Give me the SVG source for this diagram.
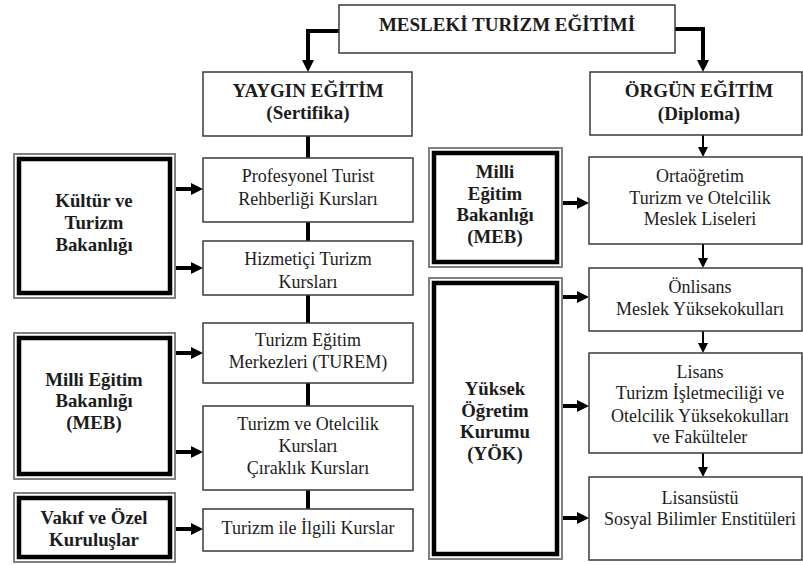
<svg xmlns="http://www.w3.org/2000/svg" width="803" height="565" viewBox="0 0 803 565">
<defs>
<style>
.box{fill:#fff;stroke:#3a3a3a;stroke-width:1.5}
.outer{fill:#fff;stroke:#808080;stroke-width:2}
.inner{fill:none;stroke:#000;stroke-width:4.5}
text{fill:#1c1c1c;text-anchor:middle}
.h{font-weight:bold;font-size:19px}
.b{font-weight:bold;font-size:18.8px}
.r{font-size:18px}
.thick{fill:none;stroke:#000;stroke-width:4}
.thin{fill:none;stroke:#000;stroke-width:2}
</style>
<marker id="ah" markerUnits="userSpaceOnUse" markerWidth="12" markerHeight="12" refX="1" refY="6" orient="auto">
<path d="M0,0 L12,6 L0,12 z" fill="#000"/>
</marker>
<marker id="ahs" markerUnits="userSpaceOnUse" markerWidth="10" markerHeight="10" refX="1" refY="5" orient="auto">
<path d="M0,0 L10,5 L0,10 z" fill="#000"/>
</marker>
</defs>
<rect width="803" height="565" fill="#fff"/>

<g id="connectors">
<path class="thick" d="M339,31 H308 V61" marker-end="url(#ah)"/>
<path class="thick" d="M675,29 H703 V61" marker-end="url(#ah)"/>
<path class="thick" d="M308,136 V158 M308,222 V241 M308,295 V323 M308,383 V406 M308,490 V509"/>
<path class="thin" d="M703,135 V148" marker-end="url(#ahs)"/>
<path class="thin" d="M703,244 V259" marker-end="url(#ahs)"/>
<path class="thin" d="M703,331 V344" marker-end="url(#ahs)"/>
<path class="thin" d="M703,453 V468" marker-end="url(#ahs)"/>
<path class="thick" d="M176,189 H192" marker-end="url(#ah)"/>
<path class="thick" d="M176,268 H192" marker-end="url(#ah)"/>
<path class="thick" d="M176,353 H192" marker-end="url(#ah)"/>
<path class="thick" d="M176,452 H192" marker-end="url(#ah)"/>
<path class="thick" d="M176,529 H192" marker-end="url(#ah)"/>
<path class="thick" d="M563,203 H578" marker-end="url(#ah)"/>
<path class="thick" d="M563,297 H578" marker-end="url(#ah)"/>
<path class="thick" d="M563,406 H578" marker-end="url(#ah)"/>
<path class="thick" d="M563,518 H578" marker-end="url(#ah)"/>
</g>

<g font-family="'Liberation Serif', 'DejaVu Serif', serif">
<g id="mesleki">
<rect class="box" x="339" y="5" width="336" height="48"/>
<text class="h" x="507" y="31">MESLEKİ TURİZM EĞİTİMİ</text>
</g>

<g id="yaygin">
<rect class="box" x="203" y="72" width="209" height="64"/>
<text class="h" x="308" y="97">YAYGIN EĞİTİM</text>
<text class="h" x="308" y="119">(Sertifika)</text>
</g>

<g id="orgun">
<rect class="box" x="590" y="72" width="212" height="63"/>
<text class="h" x="699" y="97">ÖRGÜN EĞİTİM</text>
<text class="h" x="699" y="120">(Diploma)</text>
</g>

<g id="kultur">
<rect class="outer" x="14" y="154" width="161" height="144"/>
<rect class="inner" x="19" y="159" width="151" height="134"/>
<text class="b" x="94" y="207">Kültür ve</text>
<text class="b" x="94" y="229">Turizm</text>
<text class="b" x="94" y="251">Bakanlığı</text>
</g>

<g id="meb-left">
<rect class="outer" x="14" y="333" width="161" height="146"/>
<rect class="inner" x="19" y="338" width="151" height="136"/>
<text class="b" x="94" y="386">Milli Eğitim</text>
<text class="b" x="94" y="407">Bakanlığı</text>
<text class="b" x="94" y="429">(MEB)</text>
</g>

<g id="vakif">
<rect class="outer" x="14" y="493" width="161" height="69"/>
<rect class="inner" x="19" y="498" width="151" height="59"/>
<text class="b" x="94" y="524">Vakıf ve Özel</text>
<text class="b" x="94" y="546">Kuruluşlar</text>
</g>

<g id="profesyonel">
<rect class="box" x="203" y="158" width="210" height="64"/>
<text class="r" x="308" y="182">Profesyonel Turist</text>
<text class="r" x="308" y="205">Rehberliği Kursları</text>
</g>

<g id="hizmetici">
<rect class="box" x="203" y="241" width="210" height="54"/>
<text class="r" x="308" y="265">Hizmetiçi Turizm</text>
<text class="r" x="308" y="288">Kursları</text>
</g>

<g id="turem">
<rect class="box" x="203" y="323" width="210" height="60"/>
<text class="r" x="308" y="346">Turizm Eğitim</text>
<text class="r" x="308" y="368">Merkezleri (TUREM)</text>
</g>

<g id="otelcilik-kurslari">
<rect class="box" x="203" y="406" width="210" height="84"/>
<text class="r" x="308" y="430">Turizm ve Otelcilik</text>
<text class="r" x="308" y="452">Kursları</text>
<text class="r" x="308" y="474">Çıraklık Kursları</text>
</g>

<g id="ilgili">
<rect class="box" x="203" y="509" width="210" height="42"/>
<text class="r" x="308" y="534">Turizm ile İlgili Kurslar</text>
</g>

<g id="meb-right">
<rect class="outer" x="429" y="148" width="133" height="119"/>
<rect class="inner" x="434" y="153" width="123" height="109"/>
<text class="b" x="495" y="178">Milli</text>
<text class="b" x="495" y="200">Eğitim</text>
<text class="b" x="495" y="221">Bakanlığı</text>
<text class="b" x="495" y="243">(MEB)</text>
</g>

<g id="yok">
<rect class="outer" x="429" y="278" width="133" height="281"/>
<rect class="inner" x="434" y="283" width="123" height="271"/>
<text class="b" x="495" y="395">Yüksek</text>
<text class="b" x="495" y="417">Öğretim</text>
<text class="b" x="495" y="438">Kurumu</text>
<text class="b" x="495" y="460">(YÖK)</text>
</g>

<g id="ortaogretim">
<rect class="box" x="589" y="157" width="213" height="87"/>
<text class="r" x="700" y="182">Ortaöğretim</text>
<text class="r" x="700" y="204">Turizm ve Otelcilik</text>
<text class="r" x="700" y="225">Meslek Liseleri</text>
</g>

<g id="onlisans">
<rect class="box" x="589" y="268" width="213" height="63"/>
<text class="r" x="700" y="293">Önlisans</text>
<text class="r" x="700" y="315">Meslek Yüksekokulları</text>
</g>

<g id="lisans">
<rect class="box" x="589" y="353" width="213" height="100"/>
<text class="r" x="700" y="378">Lisans</text>
<text class="r" x="700" y="399">Turizm İşletmeciliği ve</text>
<text class="r" x="700" y="422">Otelcilik Yüksekokulları</text>
<text class="r" x="700" y="443">ve Fakülteler</text>
</g>

<g id="lisansustu">
<rect class="box" x="589" y="477" width="213" height="83"/>
<text class="r" x="700" y="504">Lisansüstü</text>
<text class="r" x="700" y="525">Sosyal Bilimler Enstitüleri</text>
</g>
</g>
</svg>
